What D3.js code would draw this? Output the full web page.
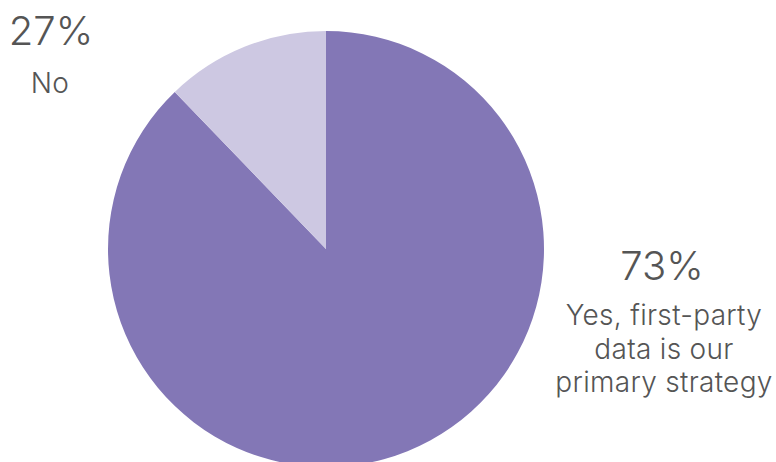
<!DOCTYPE html>
<html>
<head>
<meta charset="utf-8">
<script src="https://cdn.jsdelivr.net/npm/d3@7"></script>
<style>
  body { margin: 0; background: #fff; }
  text { font-family: Inter, "Noto Sans", sans-serif; fill: #555; }
  .pct { font-weight: 300; font-size: 40px; }
  .cat { font-weight: 300; font-size: 28px; letter-spacing: 0.3px; }
</style>
</head>
<body>
<div id="pie"></div>
<script>
// slice sizes as drawn in the picture (labels carry the printed percentages)
var categories = ["Yes, first-party data is our primary strategy", "No"];
var sliceValues = [87.8, 12.2];
var pctLabels = ["73%", "27%"];
var colors = ["#8377b6", "#cdc8e2"];

var width = 776, height = 462,
    cx = 326, cy = 249, radius = 218;

var svg = d3.select("#pie")
  .append("svg")
    .attr("width", width)
    .attr("height", height);

var g = svg.append("g")
  .attr("transform", "translate(" + cx + "," + cy + ")");

var pie = d3.pie().sort(null);
var arc = d3.arc().innerRadius(0).outerRadius(radius);

g.selectAll("path")
  .data(pie(sliceValues))
  .enter()
  .append("path")
    .attr("d", arc)
    .attr("fill", function (d, i) { return colors[i]; });

// Yes label (right)
svg.append("text")
  .attr("class", "pct")
  .attr("x", 662).attr("y", 280)
  .attr("text-anchor", "middle")
  .text(pctLabels[0]);

var yesLines = ["Yes, first-party", "data is our", "primary strategy"];
svg.append("g").selectAll("text")
  .data(yesLines)
  .enter()
  .append("text")
    .attr("class", "cat")
    .attr("x", 664)
    .attr("y", function (d, i) { return 325 + i * 33.5; })
    .attr("text-anchor", "middle")
    .text(function (d) { return d; });

// No label (left)
svg.append("text")
  .attr("class", "pct")
  .attr("x", 51).attr("y", 45)
  .attr("text-anchor", "middle")
  .text(pctLabels[1]);

svg.append("text")
  .attr("class", "cat")
  .attr("x", 50).attr("y", 93)
  .attr("text-anchor", "middle")
  .text(categories[1]);
</script>
</body>
</html>
